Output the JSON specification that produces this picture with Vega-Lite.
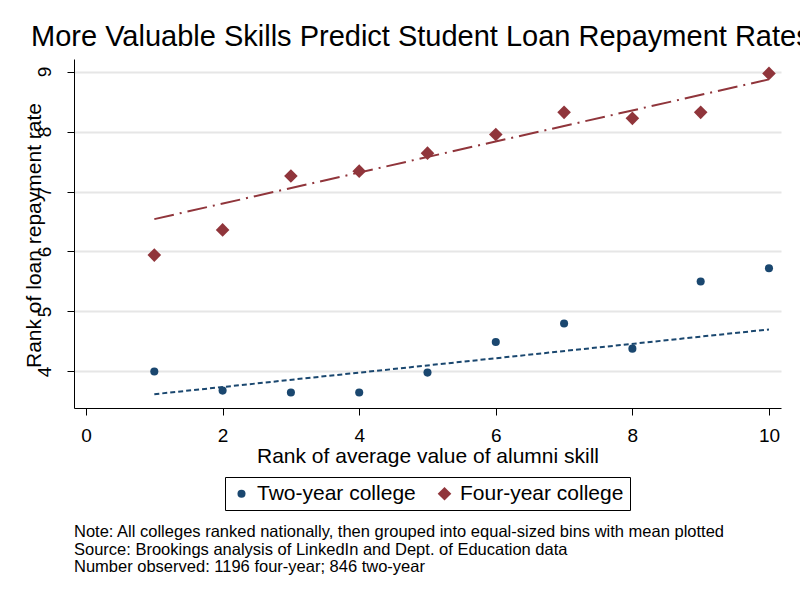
{
  "$schema": "https://vega.github.io/schema/vega-lite/v6.json",
  "background": "white",
  "padding": {"left": 22, "top": 23, "right": 0, "bottom": 0},
  "config": {
    "font": "Liberation Sans",
    "view": {"stroke": null},
    "concat": {"spacing": 0},
    "axis": {
      "domainColor": "black",
      "tickColor": "black",
      "labelColor": "black",
      "titleColor": "black",
      "titleFontWeight": "normal",
      "tickSize": 7,
      "domainWidth": 1,
      "tickWidth": 1
    }
  },
  "datasets": {
    "points": [
      {"skill": 1, "repay": 4.00, "type": "Two-year college"},
      {"skill": 2, "repay": 3.68, "type": "Two-year college"},
      {"skill": 3, "repay": 3.65, "type": "Two-year college"},
      {"skill": 4, "repay": 3.65, "type": "Two-year college"},
      {"skill": 5, "repay": 3.98, "type": "Two-year college"},
      {"skill": 6, "repay": 4.49, "type": "Two-year college"},
      {"skill": 7, "repay": 4.80, "type": "Two-year college"},
      {"skill": 8, "repay": 4.38, "type": "Two-year college"},
      {"skill": 9, "repay": 5.50, "type": "Two-year college"},
      {"skill": 10, "repay": 5.72, "type": "Two-year college"},
      {"skill": 1, "repay": 5.94, "type": "Four-year college"},
      {"skill": 2, "repay": 6.36, "type": "Four-year college"},
      {"skill": 3, "repay": 7.26, "type": "Four-year college"},
      {"skill": 4, "repay": 7.34, "type": "Four-year college"},
      {"skill": 5, "repay": 7.64, "type": "Four-year college"},
      {"skill": 6, "repay": 7.95, "type": "Four-year college"},
      {"skill": 7, "repay": 8.32, "type": "Four-year college"},
      {"skill": 8, "repay": 8.22, "type": "Four-year college"},
      {"skill": 9, "repay": 8.32, "type": "Four-year college"},
      {"skill": 10, "repay": 8.97, "type": "Four-year college"}
    ],
    "fits": [
      {"skill": 1, "repay": 3.62, "type": "Two-year college"},
      {"skill": 10, "repay": 4.70, "type": "Two-year college"},
      {"skill": 1, "repay": 6.54, "type": "Four-year college"},
      {"skill": 10, "repay": 8.87, "type": "Four-year college"}
    ]
  },
  "title": {
    "text": "More Valuable Skills Predict Student Loan Repayment Rates",
    "fontSize": 29,
    "fontWeight": "normal",
    "color": "black",
    "anchor": "start",
    "dx": 8,
    "offset": 7
  },
  "vconcat": [
    {
      "width": 707,
      "height": 349,
      "title": {
        "text": [
          "Note: All colleges ranked nationally, then grouped into equal-sized bins with mean plotted",
          "Source: Brookings analysis of LinkedIn and Dept. of Education data",
          "Number observed: 1196 four-year; 846 two-year"
        ],
        "orient": "bottom",
        "anchor": "start",
        "frame": "group",
        "fontSize": 16.5,
        "fontWeight": "normal",
        "color": "black",
        "lineHeight": 17.5,
        "offset": 58
      },
      "encoding": {
        "x": {
          "field": "skill",
          "type": "quantitative",
          "scale": {"domain": [-0.176, 10.176], "nice": false, "zero": false},
          "axis": {
            "values": [0, 2, 4, 6, 8, 10],
            "grid": false,
            "labelFontSize": 19,
            "labelPadding": 11,
            "title": "Rank of average value of alumni skill",
            "titleFontSize": 21,
            "titlePadding": 0
          }
        },
        "y": {
          "field": "repay",
          "type": "quantitative",
          "scale": {"domain": [3.39, 9.21], "nice": false, "zero": false},
          "axis": {
            "values": [4, 5, 6, 7, 8, 9],
            "grid": true,
            "gridColor": "#e6e6e6",
            "gridWidth": 2,
            "labelFontSize": 19,
            "labelAngle": 270,
            "labelAlign": "center",
            "labelBaseline": "alphabetic",
            "labelPadding": 17,
            "title": "Rank of loan repayment rate",
            "titleFontSize": 21,
            "titleAngle": 270,
            "titleAlign": "center",
            "titleBaseline": "alphabetic",
            "titleX": -34,
            "titleY": 176
          }
        }
      },
      "layer": [
        {
          "data": {"name": "fits"},
          "transform": [{"filter": "datum.type === 'Two-year college'"}],
          "mark": {"type": "line", "color": "#1a476f", "strokeWidth": 2, "strokeDash": [5, 3]}
        },
        {
          "data": {"name": "fits"},
          "transform": [{"filter": "datum.type === 'Four-year college'"}],
          "mark": {"type": "line", "color": "#90353b", "strokeWidth": 2, "strokeDash": [20, 6, 2, 6]}
        },
        {
          "data": {"name": "points"},
          "mark": {"type": "point", "filled": true, "opacity": 1},
          "encoding": {
            "color": {
              "field": "type",
              "type": "nominal",
              "scale": {"domain": ["Two-year college", "Four-year college"], "range": ["#1a476f", "#90353b"]},
              "legend": {
                "title": null,
                "orient": "none",
                "direction": "horizontal",
                "legendX": 151,
                "legendY": 418,
                "padding": 6,
                "strokeColor": "black",
                "fillColor": "white",
                "labelFontSize": 21,
                "labelColor": "black",
                "labelOffset": 5,
                "labelLimit": 300,
                "columnPadding": 18,
                "symbolStrokeWidth": 0
              }
            },
            "shape": {
              "field": "type",
              "type": "nominal",
              "scale": {"domain": ["Two-year college", "Four-year college"], "range": ["circle", "diamond"]}
            },
            "size": {
              "field": "type",
              "type": "nominal",
              "scale": {"domain": ["Two-year college", "Four-year college"], "range": [65, 185]}
            }
          }
        }
      ]
    }
  ]
}
